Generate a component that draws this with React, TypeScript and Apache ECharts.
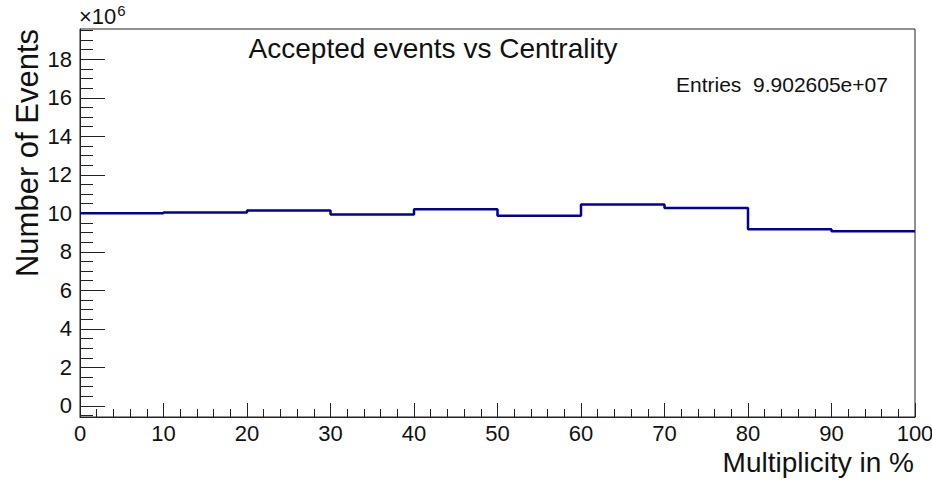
import React, { useEffect, useRef } from "react";
import * as echarts from "echarts";

// Centrality bins (percent) and accepted events per bin (units of 10^6)
const binEdges = [0, 10, 20, 30, 40, 50, 60, 70, 80, 90, 100];
const binCounts = [9.99, 10.03, 10.13, 9.93, 10.2, 9.86, 10.45, 10.27, 9.16, 9.06];
const yMajorTicks = [0, 2, 4, 6, 8, 10, 12, 14, 16, 18];
const yMinorTicks = [
  -0.5, 0.5, 1, 1.5, 2.5, 3, 3.5, 4.5, 5, 5.5, 6.5, 7, 7.5, 8.5, 9, 9.5, 10.5, 11, 11.5,
  12.5, 13, 13.5, 14.5, 15, 15.5, 16.5, 17, 17.5, 18.5, 19, 19.5,
];
const titleText = "Accepted events vs Centrality";
const entriesText = "Entries  9.902605e+07";
const xTitle = "Multiplicity in %";
const yTitle = "Number of Events";

const FONT = "'Liberation Sans', Arial, Helvetica, sans-serif";
const AXIS_COLOR = "#222";
const MAJOR_LEN = 25;
const MINOR_LEN = 13;

export default function App() {
  const ref = useRef<HTMLDivElement>(null);

  useEffect(() => {
    if (!ref.current) return;
    const chart = echarts.init(ref.current, undefined, { renderer: "svg" });

    // Step-line points: each bin value held from its lower edge to its upper edge
    const stepData: [number, number][] = binCounts.map((v, i) => [binEdges[i], v]);
    stepData.push([binEdges[binEdges.length - 1], binCounts[binCounts.length - 1]]);

    // Y-axis tick marks placed at x = 0 on the value scale, drawn inward
    const yTickData = [
      ...yMajorTicks.map((v) => [binEdges[0], v, 1]),
      ...yMinorTicks.map((v) => [binEdges[0], v, 0]),
    ];

    const yMin = -0.59;
    const yMax = 19.56;

    chart.setOption({
      animation: false,
      backgroundColor: "#fff",
      grid: {
        left: 80,
        right: 17,
        top: 29,
        bottom: 63,
        show: true,
        borderColor: AXIS_COLOR,
        borderWidth: 1,
        backgroundColor: "transparent",
        containLabel: false,
        outerBoundsMode: "none",
      },
      xAxis: {
        type: "value",
        min: 0,
        max: 100,
        interval: 10,
        axisLine: { show: true, onZero: false, lineStyle: { color: AXIS_COLOR, width: 1 } },
        axisTick: { show: true, inside: true, length: 14, lineStyle: { color: AXIS_COLOR } },
        minorTick: { show: true, splitNumber: 5, length: 8, lineStyle: { color: AXIS_COLOR } },
        splitLine: { show: false },
        minorSplitLine: { show: false },
        axisLabel: {
          margin: 5,
          color: "#111",
          fontSize: 22,
          fontFamily: FONT,
          hideOverlap: false,
        },
      },
      yAxis: {
        type: "value",
        min: yMin,
        max: yMax,
        position: "left",
        axisLine: { show: true, onZero: false, lineStyle: { color: AXIS_COLOR, width: 1 } },
        axisTick: { show: false },
        splitLine: { show: false },
        axisLabel: {
          margin: 8,
          color: "#111",
          fontSize: 22,
          fontFamily: FONT,
          customValues: yMajorTicks,
        },
      },
      series: [
        {
          type: "custom",
          silent: true,
          clip: false,
          data: yTickData,
          encode: { x: 0, y: 1 },
          renderItem: (_params: any, api: any) => {
            const p = api.coord([api.value(0), api.value(1)]);
            const len = api.value(2) ? MAJOR_LEN : MINOR_LEN;
            const y = Math.round(p[1]) + 0.5;
            return {
              type: "line",
              shape: { x1: p[0], y1: y, x2: p[0] + len, y2: y },
              style: { stroke: AXIS_COLOR, lineWidth: 1 },
            };
          },
        },
        {
          type: "line",
          step: "end",
          data: stepData,
          symbol: "none",
          lineStyle: { color: "#00009c", width: 2.5 },
          silent: true,
        },
      ],
      graphic: [
        {
          type: "text",
          x: 433,
          y: 48,
          style: {
            text: titleText,
            fontSize: 28,
            fontFamily: FONT,
            fill: "#111",
            align: "center",
            verticalAlign: "middle",
          },
        },
        {
          type: "text",
          x: 676,
          y: 84,
          style: {
            text: entriesText,
            fontSize: 21,
            fontFamily: FONT,
            fill: "#111",
            align: "left",
            verticalAlign: "middle",
          },
        },
        {
          type: "text",
          x: 914,
          y: 462,
          style: {
            text: xTitle,
            fontSize: 28,
            fontFamily: FONT,
            fill: "#111",
            align: "right",
            verticalAlign: "middle",
          },
        },
        {
          type: "text",
          x: 27,
          y: 153,
          rotation: Math.PI / 2,
          style: {
            text: yTitle,
            fontSize: 31,
            fontFamily: FONT,
            fill: "#111",
            align: "center",
            verticalAlign: "middle",
          },
        },
        {
          type: "text",
          x: 79,
          y: 15,
          style: {
            text: "{b|×10}{s|6}",
            fontFamily: FONT,
            fill: "#111",
            align: "left",
            verticalAlign: "middle",
            rich: {
              b: { fontSize: 22, fontFamily: FONT, fill: "#111", verticalAlign: "bottom", lineHeight: 24 },
              s: { fontSize: 15, fontFamily: FONT, fill: "#111", verticalAlign: "top", lineHeight: 24, padding: [0, 0, 10, 1] },
            },
          },
        },
      ],
    });

    return () => chart.dispose();
  }, []);

  return (
    <div
      ref={ref}
      style={{ position: "fixed", left: 0, top: 0, width: 932, height: 480, background: "#fff" }}
    />
  );
}
